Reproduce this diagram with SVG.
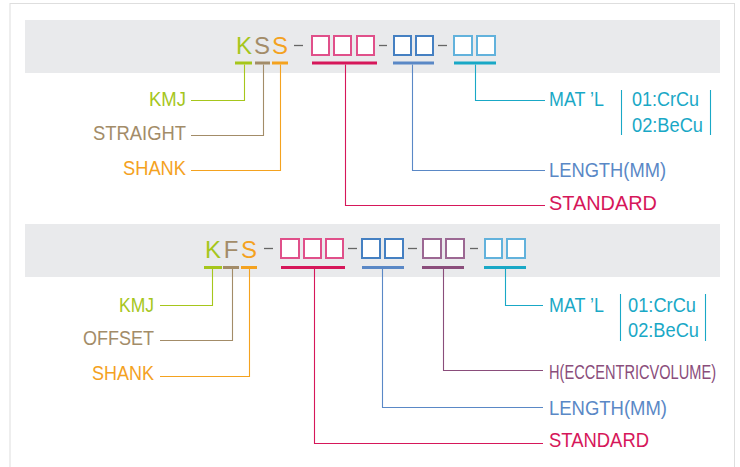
<svg xmlns="http://www.w3.org/2000/svg" width="740" height="467" viewBox="0 0 740 467">
<style>
text{font-family:"Liberation Sans",Arial,sans-serif}
.big{font-size:24px;text-anchor:middle}
.lbl{font-size:20px}
.r{text-anchor:end}
.band{fill:#e9eaec}
.box{fill:#fff;stroke-width:2}
.bar{stroke-width:3;fill:none}
.ld{fill:none;stroke-width:1.1}
.dash{stroke:#666;stroke-width:1.3}
.g{fill:#a6c61c}.gs{stroke:#a6c61c}
.t{fill:#a38c68}.ts{stroke:#a38c68}
.o{fill:#f4a21f}.os{stroke:#f4a21f}
.p{fill:#d6175a}.ps{stroke:#d6175a}
.b{fill:#5a88c6}.bs{stroke:#5a88c6}
.c{fill:#19a8c6}.cs{stroke:#19a8c6}
.v{fill:#8a4d7b}.vs{stroke:#8a4d7b}
.pb{stroke:#e0508a}.bb{stroke:#4580c2}.cb{stroke:#62b2dc}.vb{stroke:#9c6893}
</style>
<rect x="10" y="3.5" width="724.5" height="470" fill="#fff" stroke="#dedede" stroke-width="1"/>
<rect class="band" x="25" y="20" width="695" height="53"/>
<rect class="band" x="25" y="224" width="695" height="53"/>

<g id="code1">
<text class="big g" x="244" y="54">K</text>
<text class="big t" x="262" y="54">S</text>
<text class="big o" x="280" y="54">S</text>
<line class="dash" x1="294" y1="45.5" x2="303" y2="45.5"/>
<rect class="box pb" x="312" y="36" width="17" height="19"/>
<rect class="box pb" x="334" y="36" width="17" height="19"/>
<rect class="box pb" x="357" y="36" width="17" height="19"/>
<line class="dash" x1="379" y1="45.5" x2="387" y2="45.5"/>
<rect class="box bb" x="394" y="36" width="17" height="19"/>
<rect class="box bb" x="416" y="36" width="17" height="19"/>
<line class="dash" x1="438" y1="45.5" x2="447" y2="45.5"/>
<rect class="box cb" x="454" y="36" width="18" height="19"/>
<rect class="box cb" x="477" y="36" width="18" height="19"/>
<line class="bar gs" x1="235" y1="63" x2="252" y2="63"/>
<line class="bar ts" x1="255" y1="63" x2="270" y2="63"/>
<line class="bar os" x1="272" y1="63" x2="288" y2="63"/>
<line class="bar ps" x1="312" y1="63" x2="377" y2="63"/>
<line class="bar bs" x1="393" y1="63" x2="434" y2="63"/>
<line class="bar cs" x1="454" y1="63" x2="496" y2="63"/>
</g>

<g id="code2">
<text class="big g" x="213" y="258">K</text>
<text class="big t" x="231" y="258">F</text>
<text class="big o" x="249" y="258">S</text>
<line class="dash" x1="264" y1="248.5" x2="273" y2="248.5"/>
<rect class="box pb" x="281" y="239" width="18" height="19"/>
<rect class="box pb" x="304" y="239" width="17" height="19"/>
<rect class="box pb" x="326" y="239" width="17" height="19"/>
<line class="dash" x1="348" y1="248.5" x2="357" y2="248.5"/>
<rect class="box bb" x="362" y="239" width="18" height="19"/>
<rect class="box bb" x="385" y="239" width="18" height="19"/>
<line class="dash" x1="408" y1="248.5" x2="417" y2="248.5"/>
<rect class="box vb" x="423" y="239" width="18" height="19"/>
<rect class="box vb" x="446" y="239" width="18" height="19"/>
<line class="dash" x1="470" y1="248.5" x2="478" y2="248.5"/>
<rect class="box cb" x="485" y="239" width="17" height="19"/>
<rect class="box cb" x="507" y="239" width="18" height="19"/>
<line class="bar gs" x1="204" y1="267.5" x2="222" y2="267.5"/>
<line class="bar ts" x1="223" y1="267.5" x2="239" y2="267.5"/>
<line class="bar os" x1="241" y1="267.5" x2="257" y2="267.5"/>
<line class="bar ps" x1="281" y1="267.5" x2="345" y2="267.5"/>
<line class="bar bs" x1="362" y1="267.5" x2="404" y2="267.5"/>
<line class="bar vs" x1="422" y1="267.5" x2="464" y2="267.5"/>
<line class="bar cs" x1="484" y1="267.5" x2="526" y2="267.5"/>
</g>

<g id="connectors">
<polyline class="ld gs" points="244.5,64.5 244.5,100.5 191,100.5"/>
<polyline class="ld ts" points="263.5,64.5 263.5,135.5 191,135.5"/>
<polyline class="ld os" points="280.5,64.5 280.5,170.5 191,170.5"/>
<polyline class="ld ps" points="345.5,64.5 345.5,205.5 545,205.5"/>
<polyline class="ld bs" points="412.5,64.5 412.5,170.5 545,170.5"/>
<polyline class="ld cs" points="475.5,64.5 475.5,100.5 545,100.5"/>
<polyline class="ld gs" points="212.5,269 212.5,305.5 160,305.5"/>
<polyline class="ld ts" points="232.5,269 232.5,340.5 160,340.5"/>
<polyline class="ld os" points="249.5,269 249.5,376.5 160,376.5"/>
<polyline class="ld ps" points="314.5,269 314.5,443.5 543,443.5"/>
<polyline class="ld bs" points="382.5,269 382.5,407.5 543,407.5"/>
<polyline class="ld vs" points="443.5,269 443.5,370.5 543,370.5"/>
<polyline class="ld cs" points="505.5,269 505.5,305.5 543,305.5"/>
<line class="ld cs" x1="621.5" y1="90" x2="621.5" y2="135"/>
<line class="ld cs" x1="710.5" y1="90" x2="710.5" y2="135"/>
<line class="ld cs" x1="620.5" y1="294" x2="620.5" y2="341"/>
<line class="ld cs" x1="705.5" y1="294" x2="705.5" y2="341"/>
</g>

<g id="labels1">
<text class="lbl g" x="149" y="106" textLength="37" lengthAdjust="spacingAndGlyphs">KMJ</text>
<text class="lbl t" x="93" y="140" textLength="93" lengthAdjust="spacingAndGlyphs">STRAIGHT</text>
<text class="lbl o" x="123" y="175" textLength="63" lengthAdjust="spacingAndGlyphs">SHANK</text>
<text class="lbl c" x="549" y="106" textLength="55" lengthAdjust="spacingAndGlyphs">MAT ’L</text>
<text class="lbl c" x="632" y="106" textLength="67" lengthAdjust="spacingAndGlyphs">01:CrCu</text>
<text class="lbl c" x="632" y="131.5" textLength="71" lengthAdjust="spacingAndGlyphs">02:BeCu</text>
<text class="lbl b" x="549" y="176.5" textLength="117" lengthAdjust="spacingAndGlyphs">LENGTH(MM)</text>
<text class="lbl p" x="549" y="210" textLength="108" lengthAdjust="spacingAndGlyphs">STANDARD</text>
</g>

<g id="labels2">
<text class="lbl g" x="119" y="311.5" textLength="35" lengthAdjust="spacingAndGlyphs">KMJ</text>
<text class="lbl t" x="83" y="345" textLength="71" lengthAdjust="spacingAndGlyphs">OFFSET</text>
<text class="lbl o" x="92" y="380" textLength="62" lengthAdjust="spacingAndGlyphs">SHANK</text>
<text class="lbl c" x="549" y="311.5" textLength="55" lengthAdjust="spacingAndGlyphs">MAT ’L</text>
<text class="lbl c" x="628" y="311.5" textLength="68" lengthAdjust="spacingAndGlyphs">01:CrCu</text>
<text class="lbl c" x="628" y="336.5" textLength="71" lengthAdjust="spacingAndGlyphs">02:BeCu</text>
<text class="lbl v" transform="translate(549,379) scale(0.73,1)" x="0" y="0">H(ECCENTRICVOLUME)</text>
<text class="lbl b" x="549" y="415" textLength="118" lengthAdjust="spacingAndGlyphs">LENGTH(MM)</text>
<text class="lbl p" x="549" y="446.5" textLength="100" lengthAdjust="spacingAndGlyphs">STANDARD</text>
</g>
</svg>
